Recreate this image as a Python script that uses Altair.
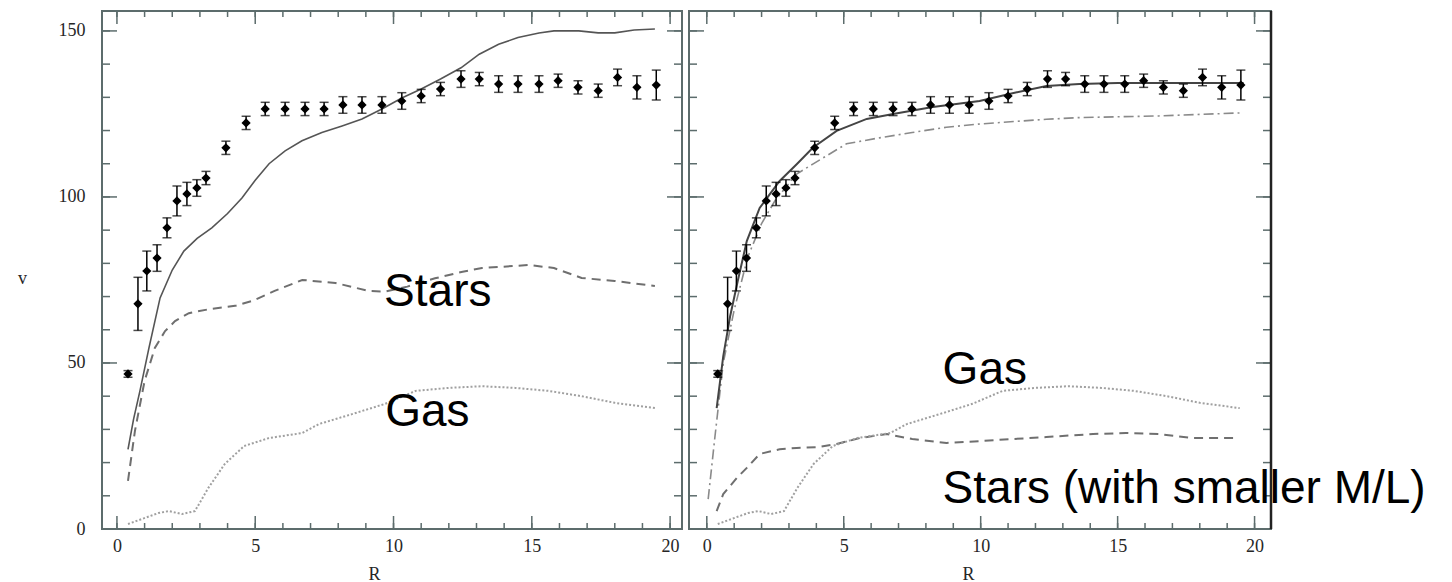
import altair as alt
import pandas as pd

# ---- observed rotation curve (same in both panels) ----
R_obs = [0.40, 0.76, 1.08, 1.45, 1.81, 2.17, 2.53, 2.89, 3.22, 3.94, 4.67, 5.36, 6.08, 6.80, 7.49, 8.17,
         8.86, 9.58, 10.30, 11.00, 11.70, 12.44, 13.10, 13.80, 14.50, 15.26, 15.95, 16.67, 17.40, 18.10, 18.80, 19.50]
V_obs = [46.7, 67.8, 77.7, 81.6, 90.7, 98.8, 100.9, 102.7, 105.7, 114.8, 122.3, 126.5, 126.5, 126.5, 126.5, 127.7,
         127.7, 127.7, 128.9, 130.4, 132.5, 135.5, 135.5, 134.0, 134.0, 134.0, 135.0, 133.0, 132.0, 136.0, 133.0, 133.7]
V_err = [1.0, 8.0, 6.0, 4.0, 3.0, 4.5, 3.5, 2.5, 2.0, 2.0, 2.0, 2.0, 2.0, 2.0, 2.0, 2.5,
         2.5, 2.5, 2.5, 2.0, 2.0, 2.5, 2.0, 2.5, 2.5, 2.5, 2.0, 2.0, 2.0, 2.5, 3.5, 4.5]

# ---- left panel model curves ----
R_tot_L = [0.40, 0.60, 0.83, 1.16, 1.56, 2.0, 2.42, 2.9, 3.43, 4.0, 4.52, 5.0, 5.5, 6.08, 6.69, 7.41, 8.14,
           8.86, 9.58, 10.3, 11.0, 11.7, 12.44, 13.1, 13.8, 14.5, 15.26, 15.8, 16.7, 17.4, 18.0, 18.7, 19.45]
V_tot_L = [24.0, 33.0, 41.5, 54.6, 69.6, 78.0, 83.7, 87.5, 90.7, 95.0, 99.7, 105.0, 110.0, 113.9, 116.9, 119.4, 121.4,
           123.5, 126.5, 129.8, 132.5, 135.5, 138.9, 143.0, 146.0, 148.0, 149.4, 150.0, 150.0, 149.4, 149.4, 150.3, 150.6]

R_star_L = [0.40, 0.65, 1.0, 1.37, 1.74, 2.1, 2.6, 3.33, 4.27, 4.9, 5.7, 6.7, 7.9, 9.1, 9.7, 10.5, 11.5,
            12.5, 13.2, 14.9, 15.8, 16.8, 18.0, 19.45]
V_star_L = [14.5, 29.5, 44.6, 54.5, 59.6, 62.6, 65.0, 66.2, 67.2, 68.7, 71.7, 75.0, 74.1, 71.7, 71.5, 73.0, 75.5,
            77.5, 78.6, 79.5, 78.6, 75.6, 74.7, 73.2]

R_gas = [0.40, 0.9, 1.5, 1.88, 2.35, 2.82, 3.3, 3.9, 4.6, 5.5, 6.7, 7.3, 8.5, 9.7, 10.8, 12.0, 13.2,
         14.4, 15.6, 16.8, 18.0, 19.46]
V_gas = [1.5, 3.0, 4.8, 5.4, 4.5, 5.4, 12.3, 19.6, 25.0, 27.4, 28.9, 31.6, 34.6, 37.7, 41.6, 42.5, 43.0,
         42.5, 41.6, 40.0, 38.0, 36.4]

# ---- right panel model curves ----
R_fit_R = [0.36, 0.6, 0.85, 1.13, 1.46, 1.93, 2.66, 3.3, 3.87, 4.74, 5.84, 6.8, 8.25, 9.96, 11.2, 12.4, 13.6,
           15.0, 16.5, 18.0, 19.6]
V_fit_R = [36.4, 52.0, 64.0, 74.7, 86.7, 96.7, 104.8, 110.0, 114.8, 119.9, 123.5, 125.0, 127.1, 128.9, 131.3,
           133.4, 134.0, 134.3, 134.3, 134.3, 134.3]

R_halo_R = [0.05, 0.3, 0.6, 1.0, 1.5, 2.0, 2.5, 3.28, 3.87, 5.1, 6.3, 7.5, 8.75, 10.0, 11.2, 12.4, 13.6, 16.5, 19.45]
V_halo_R = [9.0, 28.0, 50.0, 66.0, 82.0, 92.0, 99.0, 106.9, 109.9, 116.0, 117.8, 119.4, 121.0, 122.0, 122.7,
            123.4, 123.9, 124.4, 125.3]

R_star_R = [0.36, 0.6, 1.1, 1.46, 1.93, 2.66, 3.28, 4.1, 4.74, 5.6, 6.57, 7.5, 8.75, 10.0, 11.2, 12.4, 14.1,
            15.3, 16.5, 17.7, 19.3]
V_star_R = [5.4, 10.5, 15.4, 18.4, 22.6, 24.0, 24.4, 24.7, 25.6, 27.4, 28.6, 27.1, 25.9, 26.5, 27.1, 27.7, 28.6,
            28.9, 28.6, 27.4, 27.4]

# ---- annotations ----
LEFT_LABELS = ["Stars", "Gas"]
LEFT_LABEL_R = [9.66, 9.7]
LEFT_LABEL_V = [67.2, 31.0]
RIGHT_LABELS = ["Gas", "Stars (with smaller M/L)"]
RIGHT_LABEL_R = [8.61, 8.61]
RIGHT_LABEL_V = [43.7, 7.8]

# ---- ticks ----
X_MINOR = list(range(0, 21))
X_MAJOR = [0, 5, 10, 15, 20]
Y_MINOR = list(range(0, 151, 10))
Y_MAJOR = [0, 50, 100, 150]

FRAME = "#5c6c6c"
SERIF = "Liberation Serif"
TXT = "#262626"
H = 518
Y_DOMAIN = [0, 156]


def panel(xdomain, W, curves, labels, label_r, label_v, show_y, title_x, dark_right=False):
    xs = alt.Scale(domain=xdomain, nice=False, zero=False)
    ys = alt.Scale(domain=Y_DOMAIN, nice=False, zero=False)

    xaxis = alt.Axis(values=X_MAJOR, ticks=False, domain=False, grid=False, labelFont=SERIF,
                     labelFontSize=18, labelColor=TXT, labelPadding=8, labelFlush=False,
                     labelOverlap=False, title="R", titleFont=SERIF, titleFontSize=18,
                     titleFontWeight="normal", titleColor=TXT, titleX=title_x, titleY=45,
                     titleBaseline="middle", titleAlign="center")
    if show_y:
        yaxis = alt.Axis(values=Y_MAJOR, ticks=False, domain=False, grid=False, labelFont=SERIF,
                         labelFontSize=18, labelColor=TXT, labelPadding=17, labelFlush=False,
                         labelOverlap=False, title="v", titleFont=SERIF, titleFontSize=18,
                         titleFontWeight="normal", titleColor=TXT, titleAngle=0, titleX=-80,
                         titleY=267, titleAlign="center", titleBaseline="middle")
    else:
        yaxis = None

    def X(field):
        return alt.X(field, type="quantitative", scale=xs, axis=xaxis)

    def Y(field):
        return alt.Y(field, type="quantitative", scale=ys, axis=yaxis)

    def ticks(vals, side, length):
        df = pd.DataFrame({"t": vals})
        base = alt.Chart(df).mark_rule(color=FRAME, strokeWidth=1.5)
        if side == "bottom":
            return base.encode(x=X("t"), y=alt.value(H), y2=alt.value(H - length))
        if side == "top":
            return base.encode(x=X("t"), y=alt.value(0), y2=alt.value(length))
        if side == "left":
            return base.encode(y=Y("t"), x=alt.value(0), x2=alt.value(length))
        return base.encode(y=Y("t"), x=alt.value(W), x2=alt.value(W - length))

    obs = pd.DataFrame({"R": R_obs, "v": V_obs,
                        "lo": [a - b for a, b in zip(V_obs, V_err)],
                        "hi": [a + b for a, b in zip(V_obs, V_err)]})

    layers = []
    for (R, V, color, width, dash) in curves:
        df = pd.DataFrame({"R": R, "v": V, "i": list(range(len(R)))})
        kw = dict(color=color, strokeWidth=width)
        if dash:
            kw["strokeDash"] = dash
        layers.append(alt.Chart(df).mark_line(**kw).encode(x=X("R"), y=Y("v"), order="i:Q"))

    layers.append(alt.Chart(obs).mark_rule(color="black", strokeWidth=1.5).encode(
        x=X("R"), y=Y("lo"), y2="hi:Q"))
    for f in ["lo", "hi"]:
        layers.append(alt.Chart(obs).mark_tick(orient="horizontal", size=9, thickness=1.5,
                                               color="black").encode(x=X("R"), y=Y(f)))
    layers.append(alt.Chart(obs).mark_point(shape="diamond", filled=True, size=85, color="black",
                                            opacity=1).encode(x=X("R"), y=Y("v")))

    for side in ["bottom", "top"]:
        layers.append(ticks(X_MINOR, side, 6))
        layers.append(ticks(X_MAJOR, side, 13))
    for side in ["left", "right"]:
        layers.append(ticks(Y_MINOR, side, 8))
        layers.append(ticks(Y_MAJOR, side, 15))

    if dark_right:
        layers.append(alt.Chart(pd.DataFrame({"t": [0]})).mark_rule(color="#222222", strokeWidth=2.5).encode(
            x=alt.value(W), y=alt.value(0), y2=alt.value(H)))

    lab = pd.DataFrame({"R": label_r, "v": label_v, "text": labels})
    layers.append(alt.Chart(lab).mark_text(align="left", baseline="alphabetic", font="Liberation Sans",
                                           fontSize=46, color="black").encode(
        x=X("R"), y=Y("v"), text="text:N"))

    return alt.layer(*layers).properties(width=W, height=H)


left = panel([-0.54, 20.43], 580,
             [(R_tot_L, V_tot_L, "#555555", 1.6, None),
              (R_star_L, V_star_L, "#6f6f6f", 2.0, [9, 6]),
              (R_gas, V_gas, "#a0a0a0", 2.0, [2, 2])],
             LEFT_LABELS, LEFT_LABEL_R, LEFT_LABEL_V, True, 272)

right = panel([-0.65, 20.6], 582,
              [(R_halo_R, V_halo_R, "#8a8a8a", 1.6, [10, 4, 2, 4]),
               (R_star_R, V_star_R, "#6f6f6f", 2.0, [9, 6]),
               (R_gas, V_gas, "#a0a0a0", 2.0, [2, 2]),
               (R_fit_R, V_fit_R, "#444444", 2.0, None)],
              RIGHT_LABELS, RIGHT_LABEL_R, RIGHT_LABEL_V, False, 279, dark_right=True)

chart = alt.hconcat(left, right, spacing=3).properties(
    padding={"left": 16, "top": 8, "right": 0, "bottom": 0},
    background="white",
).configure_view(stroke=FRAME, strokeWidth=2)

chart.save("out.html", embed_options={"renderer": "svg", "actions": False})
